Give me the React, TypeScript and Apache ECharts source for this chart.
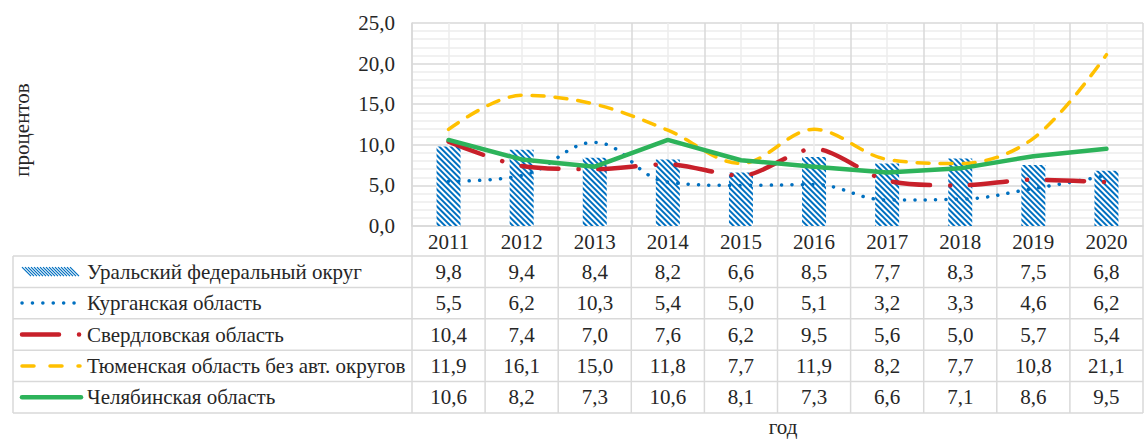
import React, { useEffect, useRef } from "react";
import * as echarts from "echarts";

const categories = ["2011", "2012", "2013", "2014", "2015", "2016", "2017", "2018", "2019", "2020"];
const seriesNames = [
  "Уральский федеральный округ",
  "Курганская область",
  "Свердловская область",
  "Тюменская область без авт. округов",
  "Челябинская область",
];
const ural = [9.8, 9.4, 8.4, 8.2, 6.6, 8.5, 7.7, 8.3, 7.5, 6.8];
const kurgan = [5.5, 6.2, 10.3, 5.4, 5.0, 5.1, 3.2, 3.3, 4.6, 6.2];
const sverdl = [10.4, 7.4, 7.0, 7.6, 6.2, 9.5, 5.6, 5.0, 5.7, 5.4];
const tyumen = [11.9, 16.1, 15.0, 11.8, 7.7, 11.9, 8.2, 7.7, 10.8, 21.1];
const chel = [10.6, 8.2, 7.3, 10.6, 8.1, 7.3, 6.6, 7.1, 8.6, 9.5];
const yAxisName = "процентов";
const xAxisName = "год";

const W = 1145;
const H = 441;
const FONT = "Liberation Serif";
const FS = 21;
const TXT = "#262626";
const GRID_C = "#D9D9D9";
const MINOR_C = "#EDEDED";
const BLUE = "#0070C0";
const RED = "#C8202A";
const YELLOW = "#FFC000";
const GREEN = "#2DB35A";

const gridLeft = 412;
const gridRight = 1143;
const gridTop = 23;
const gridBottom = 226;
const tableTop = 256;
const rowH = 31.4;
const tableLeft = 13;
const labelX = 87;

const fmt = (v: number) => v.toFixed(1).replace(".", ",");

export default function App() {
  const ref = useRef<HTMLDivElement>(null);
  useEffect(() => {
    if (!ref.current) return;
    const chart = echarts.init(ref.current, undefined, { renderer: "svg" });
    const colW = (gridRight - gridLeft) / categories.length;
    const tableBottom = tableTop + rowH * seriesNames.length;
    const rows = [ural, kurgan, sverdl, tyumen, chel];
    const font = `${FS}px "${FONT}", serif`;

    const graphics: any[] = [];
    const ln = (x1: number, y1: number, x2: number, y2: number, style: any) =>
      graphics.push({ type: "line", silent: true, shape: { x1, y1, x2, y2 }, style, z: 1 });

    for (let r = 0; r <= seriesNames.length; r++) {
      const y = tableTop + rowH * r;
      ln(tableLeft, y, gridRight, y, { stroke: GRID_C, lineWidth: 1.5 });
    }
    ln(tableLeft, tableTop, tableLeft, tableBottom, { stroke: GRID_C, lineWidth: 1.5 });
    for (let i = 0; i <= categories.length; i++) {
      const x = gridLeft + colW * i;
      ln(x, gridBottom, x, tableBottom, { stroke: GRID_C, lineWidth: 1.5 });
    }
    rows.forEach((arr, r) => {
      const cy = tableTop + rowH * (r + 0.5);
      graphics.push({
        type: "text",
        x: labelX,
        y: cy,
        style: { text: seriesNames[r], fill: TXT, font, align: "left", verticalAlign: "middle" },
        z: 5,
      });
      arr.forEach((v, i) => {
        graphics.push({
          type: "text",
          x: gridLeft + colW * (i + 0.5),
          y: cy,
          style: { text: fmt(v), fill: TXT, font, align: "center", verticalAlign: "middle" },
          z: 5,
        });
      });
    });
    const k0 = tableTop + rowH * 0.5;
    for (let x = 22; x <= 72; x += 3) {
      ln(x, k0 - 4.5, x + 9, k0 + 4.5, { stroke: BLUE, lineWidth: 1.2 });
    }
    const k1 = tableTop + rowH * 1.5;
    ln(22, k1, 80, k1, { stroke: BLUE, lineWidth: 3.5, lineDash: [0.1, 10.3], lineCap: "round" });
    const k2 = tableTop + rowH * 2.5;
    ln(22, k2, 80, k2, { stroke: RED, lineWidth: 4.5, lineDash: [37, 20, 0.1, 100], lineCap: "round" });
    const k3 = tableTop + rowH * 3.5;
    ln(22, k3, 80, k3, { stroke: YELLOW, lineWidth: 3.5, lineDash: [12, 16], lineCap: "round" });
    const k4 = tableTop + rowH * 4.5;
    ln(22, k4, 81, k4, { stroke: GREEN, lineWidth: 4.5, lineCap: "round" });

    graphics.push({
      type: "text",
      x: 22,
      y: 130,
      rotation: Math.PI / 2,
      style: { text: yAxisName, fill: TXT, font, align: "center", verticalAlign: "middle" },
    });
    graphics.push({
      type: "text",
      x: 783,
      y: 427,
      style: { text: xAxisName, fill: TXT, font, align: "center", verticalAlign: "middle" },
    });

    const lineSeries = (name: string, data: number[], color: string, width: number, dash: any, smooth: any, z: number) => ({
      type: "line",
      name,
      data,
      symbol: "none",
      smooth,
      z,
      lineStyle: { color, width, type: dash, cap: "round", join: "round" },
    });

    chart.setOption({
      animation: false,
      grid: { left: gridLeft, right: W - gridRight, top: gridTop, bottom: H - gridBottom, containLabel: false },
      xAxis: [
        {
          type: "category",
          data: categories,
          axisLine: { show: true, lineStyle: { color: GRID_C, width: 1.5 } },
          axisTick: { show: false },
          splitLine: { show: false },
          axisLabel: { color: TXT, fontFamily: FONT, fontSize: FS, margin: 5 },
        },
        {
          type: "value",
          min: 0,
          max: categories.length,
          interval: 1,
          position: "top",
          axisLine: { show: false },
          axisTick: { show: false },
          axisLabel: { show: false },
          splitLine: { show: true, lineStyle: { color: GRID_C, width: 1.5 } },
          minorTick: { show: false, splitNumber: 2 },
          minorSplitLine: { show: true, lineStyle: { color: MINOR_C, width: 1.5 } },
        },
      ],
      yAxis: {
        type: "value",
        min: 0,
        max: 25,
        interval: 5,
        axisLine: { show: true, lineStyle: { color: GRID_C, width: 1.5 } },
        axisTick: { show: false },
        axisLabel: { color: TXT, fontFamily: FONT, fontSize: FS, margin: 17, formatter: (v: number) => fmt(v) },
        splitLine: { show: true, lineStyle: { color: GRID_C, width: 1.5 } },
        minorTick: { show: false, splitNumber: 5 },
        minorSplitLine: { show: true, lineStyle: { color: MINOR_C, width: 1.5 } },
      },
      graphic: graphics,
      series: [
        {
          type: "bar",
          name: seriesNames[0],
          data: ural,
          barWidth: 24,
          z: 2,
          itemStyle: {
            color: "#ffffff",
            decal: {
              symbol: "rect",
              symbolSize: 1,
              dashArrayX: [1, 0],
              dashArrayY: [2, 2],
              rotation: Math.PI / 4,
              color: BLUE,
            },
          },
        },
        lineSeries(seriesNames[1], kurgan, BLUE, 3.5, [0.1, 10.3], 0.4, 3),
        lineSeries(seriesNames[2], sverdl, RED, 4.5, [37, 20, 0.1, 20], 0.3, 4),
        lineSeries(seriesNames[3], tyumen, YELLOW, 3.5, [12, 11], 0.35, 5),
        lineSeries(seriesNames[4], chel, GREEN, 4.5, "solid", false, 6),
      ],
    });
    return () => chart.dispose();
  }, []);
  return <div ref={ref} style={{ position: "absolute", left: 0, top: 0, width: W, height: H }} />;
}
